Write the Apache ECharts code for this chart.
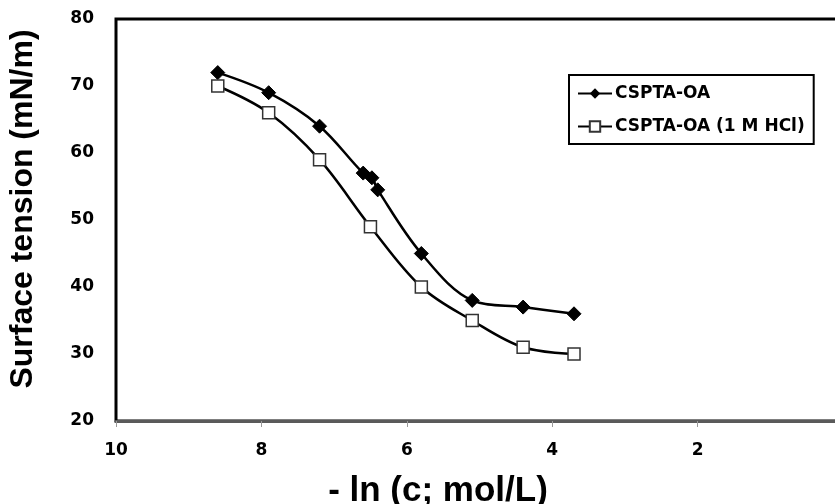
<!DOCTYPE html>
<html>
<head>
<meta charset="utf-8">
<script src="https://cdn.jsdelivr.net/npm/echarts@6/dist/echarts.min.js"></script>
<style>
  html, body { margin: 0; padding: 0; background: #fff; }
  #chart { width: 835px; height: 504px; }
</style>
</head>
<body>
<div id="chart"></div>
<script>
// -ln(c) values and surface tension readings (mN/m)
const lnA = [8.6, 7.9, 7.2, 6.6, 6.48, 6.4, 5.8, 5.1, 4.4, 3.7];
const gammaA = [72, 69, 64, 57, 56.3, 54.5, 45, 38, 37, 36];
const lnB = [8.6, 7.9, 7.2, 6.5, 5.8, 5.1, 4.4, 3.7];
const gammaB = [70, 66, 59, 49, 40, 35, 31, 30];

const seriesNames = ['CSPTA-OA', 'CSPTA-OA (1 M HCl)'];
const xTitle = '- ln (c; mol/L)';
const yTitle = 'Surface tension (mN/m)';

const pairs = (xs, ys) => xs.map((x, i) => [x, ys[i]]);

const tickFont = { fontFamily: 'DejaVu Sans', fontWeight: 'bold', fontSize: 17, color: '#000' };

const chart = echarts.init(document.getElementById('chart'), null, { renderer: 'canvas' });
chart.setOption({
  animation: false,
  backgroundColor: '#fff',
  grid: {
    left: 116, top: 19, right: -8, bottom: 83,
    outerBoundsMode: 'none',
    show: true, borderColor: '#000', borderWidth: 3, backgroundColor: 'transparent'
  },
  xAxis: {
    type: 'value', min: 0, max: 10, interval: 2, inverse: true,
    axisLine: { show: true, onZero: false, lineStyle: { color: '#5a5a5a', width: 3 } },
    axisTick: { show: true, length: 6, lineStyle: { color: '#999', width: 1 } },
    axisLabel: Object.assign({ margin: 21, showMinLabel: false }, tickFont),
    splitLine: { show: false }
  },
  yAxis: {
    type: 'value', min: 20, max: 80, interval: 10,
    axisLine: { show: true, lineStyle: { color: '#000', width: 3 } },
    axisTick: { show: false },
    axisLabel: Object.assign({ margin: 22 }, tickFont),
    splitLine: { show: false }
  },
  legend: {
    orient: 'vertical',
    left: 569, top: 75,
    padding: [10, 9, 9, 8],
    itemGap: 16,
    itemWidth: 34, itemHeight: 13,
    borderColor: '#000', borderWidth: 2,
    backgroundColor: '#fff',
    textStyle: { fontFamily: 'DejaVu Sans', fontWeight: 'bold', fontSize: 17, color: '#000', padding: [0, 0, 0, -2] },
    data: seriesNames
  },
  series: [
    {
      name: seriesNames[0], type: 'line', smooth: 0.35,
      data: pairs(lnA, gammaA),
      symbol: 'diamond', symbolSize: 14,
      lineStyle: { color: '#000', width: 2.5 },
      itemStyle: { color: '#000', borderColor: '#000' }
    },
    {
      name: seriesNames[1], type: 'line', smooth: 0.35,
      data: pairs(lnB, gammaB),
      symbol: 'rect', symbolSize: 12,
      lineStyle: { color: '#000', width: 2.5 },
      itemStyle: { color: '#fff', borderColor: '#333', borderWidth: 1.5 }
    }
  ],
  graphic: [
    {
      type: 'text', x: 23, y: 209, rotation: Math.PI / 2,
      style: {
        text: yTitle, fontFamily: 'Liberation Sans', fontWeight: 'bold', fontSize: 32,
        fill: '#000', align: 'center', verticalAlign: 'middle'
      }
    },
    {
      type: 'text', x: 438, y: 491,
      style: {
        text: xTitle, fontFamily: 'Liberation Sans', fontWeight: 'bold', fontSize: 35,
        fill: '#000', align: 'center', verticalAlign: 'middle'
      }
    }
  ]
});
</script>
</body>
</html>
